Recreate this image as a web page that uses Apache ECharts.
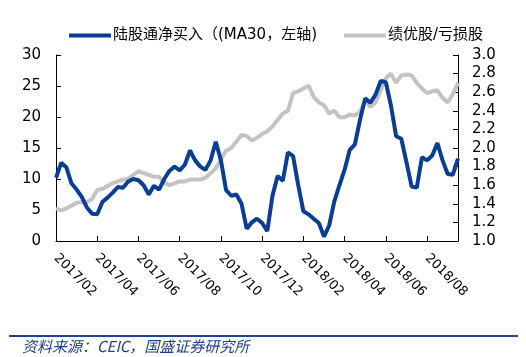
<!DOCTYPE html>
<html>
<head>
<meta charset="utf-8">
<script src="https://cdn.jsdelivr.net/npm/echarts@6/dist/echarts.min.js"></script>
<style>
html,body{margin:0;padding:0;background:#fff;}
#c{width:526px;height:357px;}
</style>
</head>
<body>
<div id="c"></div>
<script>
// Months covered (4 weekly points per month, last month partial)
var months = ['2017/02','2017/03','2017/04','2017/05','2017/06','2017/07','2017/08','2017/09','2017/10','2017/11','2017/12','2018/01','2018/02','2018/03','2018/04','2018/05','2018/06','2018/07','2018/08','2018/09'];
var weekDays = ['01','08','15','22'];
var tickLabels = ['2017/02','2017/04','2017/06','2017/08','2017/10','2017/12','2018/02','2018/04','2018/06','2018/08'];

// 陆股通净买入 (MA30), left axis
var northbound = [10.2,12.6,11.9,9.3,8.3,7.1,5.4,4.4,4.3,6.3,
  7.0,7.8,8.7,8.6,9.6,10.0,9.8,9.0,7.5,8.9,
  8.3,10.0,11.3,12.0,11.4,12.3,14.6,13.0,12.0,11.5,
  13.0,16.0,13.0,8.2,7.3,7.5,6.0,2.0,3.0,3.6,
  2.9,1.6,7.3,10.5,9.7,14.3,13.7,9.0,4.8,4.3,
  3.6,2.9,0.7,2.5,6.4,9.0,11.5,14.7,15.6,19.6,
  23.0,22.3,23.6,25.8,25.6,21.8,16.9,16.5,12.7,8.8,
  8.6,13.5,13.0,13.8,15.8,13.0,10.8,10.7,13.3];

// 绩优股/亏损股, right axis
var ratio = [1.35,1.33,1.35,1.38,1.41,1.42,1.42,1.45,1.55,1.56,
  1.59,1.62,1.64,1.66,1.67,1.71,1.75,1.73,1.71,1.69,
  1.69,1.63,1.60,1.62,1.64,1.64,1.66,1.66,1.66,1.68,
  1.73,1.78,1.88,1.97,2.00,2.07,2.14,2.13,2.08,2.11,
  2.15,2.18,2.23,2.30,2.37,2.40,2.59,2.61,2.64,2.67,
  2.55,2.49,2.46,2.37,2.40,2.33,2.33,2.36,2.35,2.39,
  2.52,2.44,2.49,2.62,2.75,2.80,2.70,2.78,2.79,2.78,
  2.70,2.64,2.59,2.61,2.62,2.54,2.49,2.58,2.70];

var seriesNames = ['陆股通净买入（(MA30，左轴)', '绩优股/亏损股'];

var categories = [];
months.forEach(function(m){ weekDays.forEach(function(d){ categories.push(m + '/' + d); }); });
categories = categories.slice(0, northbound.length);

var FONT = '"DejaVu Sans", "Noto Sans CJK SC", sans-serif';
var chart = echarts.init(document.getElementById('c'), null, {renderer:'canvas'});
chart.setOption({
  animation: false,
  backgroundColor: '#ffffff',
  legend: {
    top: 23, left: 64,
    itemGap: 27,
    icon: 'rect', itemWidth: 42, itemHeight: 4,
    textStyle: {fontSize: 15, color: '#000', fontFamily: FONT, padding:[0,0,0,-3]},
    data: seriesNames
  },
  grid: {left: 56, right: 68, top: 55, bottom: 116},
  xAxis: {
    type: 'category',
    data: categories,
    boundaryGap: false,
    axisLine: {lineStyle: {color: '#000', width: 1}},
    axisTick: {inside: true, length: 5, lineStyle:{color:'#000'},
      interval: function(i){ return i % 8 === 0; }},
    axisLabel: {
      interval: function(i){ return i % 8 === 0; },
      rotate: -45, margin: 15,
      fontSize: 13, color: '#000', fontFamily: FONT,
      formatter: function(v){ var m = v.slice(0,7); return tickLabels.indexOf(m) >= 0 ? m : ''; }
    },
    splitLine: {show: false}
  },
  yAxis: [{
    type: 'value', min: 0, max: 30, interval: 5, position: 'left',
    axisLine: {show: true, lineStyle: {color: '#000'}},
    axisTick: {show: true, inside: true, length: 5, lineStyle:{color:'#000'}},
    axisLabel: {fontSize: 15, color: '#000', fontFamily: FONT, margin: 15},
    splitLine: {show: false}
  },{
    type: 'value', min: 1.0, max: 3.0, interval: 0.2, position: 'right',
    axisLine: {show: true, lineStyle: {color: '#000'}},
    axisTick: {show: true, inside: true, length: 5, lineStyle:{color:'#000'}},
    axisLabel: {fontSize: 15, color: '#000', fontFamily: FONT, margin: 14,
      formatter: function(v){ return v.toFixed(1); }},
    splitLine: {show: false}
  }],
  series: [{
    name: seriesNames[0], type: 'line', yAxisIndex: 0, data: northbound,
    showSymbol: false, symbol: 'none', z: 3,
    lineStyle: {color: '#0a3d96', width: 4}, itemStyle: {color: '#0a3d96'}
  },{
    name: seriesNames[1], type: 'line', yAxisIndex: 1, data: ratio,
    showSymbol: false, symbol: 'none', z: 2,
    lineStyle: {color: '#c3c3c3', width: 4}, itemStyle: {color: '#c3c3c3'}
  }],
  graphic: [{
    type: 'rect', shape: {x: 9, y: 335, width: 509, height: 2},
    style: {fill: '#1f4192'}
  },{
    type: 'text', left: 22, top: 339,
    style: {text: '资料来源：CEIC，国盛证券研究所', fill: '#1f3f8a',
      font: 'italic 15px "Noto Sans CJK SC", "DejaVu Sans", sans-serif'}
  }]
});
</script>
</body>
</html>
